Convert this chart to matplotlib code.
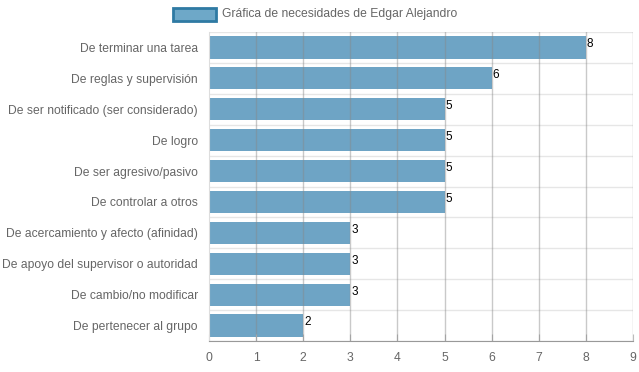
import numpy as np
import matplotlib.pyplot as plt
from matplotlib.patches import Rectangle

plt.rcParams['font.family'] = ['Liberation Sans', 'DejaVu Sans']

categorias = ['De terminar una tarea', 'De reglas y supervisión',
              'De ser notificado (ser considerado)', 'De logro',
              'De ser agresivo/pasivo', 'De controlar a otros',
              'De acercamiento y afecto (afinidad)',
              'De apoyo del supervisor o autoridad',
              'De cambio/no modificar', 'De pertenecer al grupo']
valores = [8, 6, 5, 5, 5, 5, 3, 3, 3, 2]
serie = 'Gráfica de necesidades de Edgar Alejandro'

fig = plt.figure(figsize=(6.39, 3.72), dpi=100)
ax = fig.add_axes([209/639, 1 - 341/372, (633 - 209)/639, (341 - 32)/372])

n = len(categorias)
ind = np.arange(n)
ax.barh(ind, valores, height=0.72, color='#4a8db7', alpha=0.8, zorder=1)

for i, v in enumerate(valores):
    ax.text(v + 0.02, i - 0.1, '%d' % v, ha='left', va='center', fontsize=8.5, color='black')

ax.set_xlim(0, 9)
ax.set_ylim(n - 0.5, -0.5)
ax.set_xticks(range(10))
ax.set_yticks(ind)
ax.set_yticklabels(categorias)
ax.tick_params(axis='both', colors='#666666', labelsize=8.7, length=0)
ax.tick_params(axis='x', pad=8, length=5, color='#bbbbbb', direction='in')
ax.tick_params(axis='y', pad=8)

# vertical grid
for x in range(1, 10):
    ax.axvline(x, color='#888888', alpha=0.45, lw=1, zorder=2)
# horizontal category separators
for y in np.arange(-0.5, n, 1):
    ax.axhline(y, color='#e6e6e6', lw=1, zorder=0)

for s in ['top', 'right']:
    ax.spines[s].set_visible(False)
ax.spines['left'].set_color('#dddddd')
ax.spines['bottom'].set_color('#999999')

# legend
fig.patches.append(Rectangle((173/639, 1 - 21/372), 43/639, 13/372,
                             transform=fig.transFigure, facecolor='#6ea8c8',
                             edgecolor='#2f7aa3', lw=2))
fig.text(222/639, 1 - 14.5/372, serie, fontsize=8.7, color='#666666', va='center', ha='left')

plt.savefig('out.png', dpi=100)
